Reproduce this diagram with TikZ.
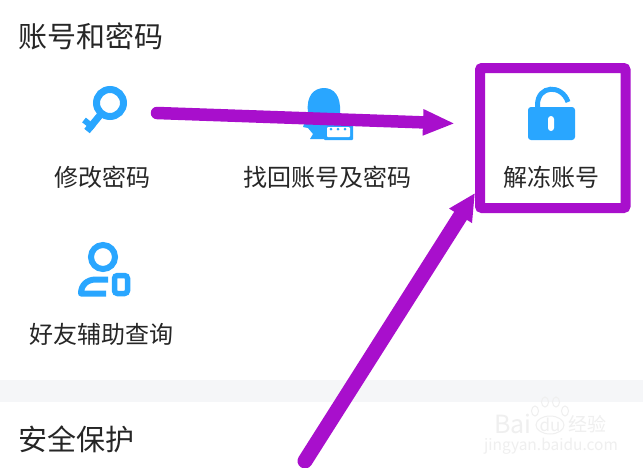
\documentclass[tikz,border=0pt]{standalone}
\usepackage{fontspec}
\setmainfont{Noto Sans CJK SC}
\usetikzlibrary{arrows.meta}
\definecolor{iconblue}{HTML}{29A6FF}
\definecolor{markpurple}{HTML}{A80FCC}
\definecolor{labelgray}{HTML}{262626}
\definecolor{bandgray}{HTML}{F5F6F8}
\definecolor{markgray}{HTML}{EFEFEF}
\tikzset{
  heading/.style = {anchor = west, inner sep = 0pt, text = labelgray, font = \fontsize{29}{29}\selectfont},
  itemlabel/.style = {inner sep = 0pt, text = labelgray, font = \fontsize{24}{24}\selectfont},
  icon/.style = {draw = iconblue, line width = 6pt},
  markarrow/.style = {draw = markpurple, line width = 12.5pt, line cap = round,
    -{Triangle[length = 32pt, width = 24pt, fill = markpurple]}},
  wmark/.style = {inner sep = 0pt, text = markgray}
}
\begin{document}
\begin{tikzpicture}[x = 1pt, y = -1pt]

  \useasboundingbox (0, 0) rectangle (643, 467);
  \clip (0, 0) rectangle (643, 467);
  \fill[white] (0, 0) rectangle (643, 467);
  \fill[bandgray] (0, 380) rectangle (643, 402);

  \node[heading] (account) at (18.5, 36) {账号和密码};
  \node[heading] (safety) at (18.5, 439) {安全保护};
  \node[itemlabel] (change) at (102, 177) {修改密码};
  \node[itemlabel] (recover) at (327, 177) {找回账号及密码};
  \node[itemlabel] (unfreeze) at (551, 177) {解冻账号};
  \node[itemlabel] (friend) at (102, 334) {好友辅助查询};

  \draw[icon, line width = 7pt] (110, 103) circle (13.5pt);
  \draw[icon, line width = 7pt] (101, 114) -- (87, 131);
  \draw[icon, line width = 6pt] (84, 120) -- (94, 128);

  \fill[iconblue] (308, 112) .. controls (306, 96) and (314, 88) .. (324, 88)
    .. controls (334, 88) and (341, 96) .. (340, 112) -- (340, 126) -- (325, 139)
    -- (310, 139) -- (313, 134) -- (308, 128) -- (303, 127) -- cycle;
  \fill[iconblue, rounded corners = 1pt] (324, 124) rectangle (353, 140);
  \fill[white, rounded corners = 1pt] (327, 127) rectangle (350, 137);
  \foreach \dotx in {331, 338, 345} {
    \fill[iconblue] (\dotx, 129) circle (1.5pt);
  }

  \fill[iconblue, rounded corners = 3pt] (528, 107) rectangle (575, 140);
  \fill[white, rounded corners = 3pt] (548, 116) rectangle (554, 131);
  \draw[icon, line width = 5pt] (537.5, 108) -- (537.5, 105)
    .. controls (537.5, 85) and (562, 84) .. (568, 102);

  \draw[icon] (103, 257) circle (12pt);
  \draw[icon, line join = round] (108, 279.5) -- (96, 279.5)
    .. controls (87, 279.5) and (81, 285) .. (81, 293.5) -- (106, 293.5);
  \draw[icon, line width = 5.5pt, rounded corners = 3pt] (114.5, 275.5) rectangle (127.5, 293.5);

  \node[wmark, font = \fontsize{25}{25}\selectfont] (bai) at (513, 424) {Bai};
  \node[wmark, font = \fontsize{17}{17}\selectfont] (du) at (550, 425) {du};
  \draw[markgray, line width = 1pt] (du) ellipse (14pt and 9pt);
  \foreach \pawx/\pawy in {535/411, 545/402, 556/402, 565/411} {
    \draw[markgray, line width = 1pt] (\pawx, \pawy) ellipse (3.5pt and 5pt);
  }
  \node[wmark, font = \fontsize{19}{19}\selectfont] (jing) at (587, 424) {经验};
  \node[wmark, font = \fontsize{15.5}{15.5}\selectfont] (site) at (551, 446) {jingyan.baidu.com};

  \coordinate (startone) at (157, 113);
  \coordinate (tipone) at (455, 123.5);
  \coordinate (starttwo) at (305, 461);
  \coordinate (tiptwo) at (475, 193);
  \draw[markarrow] (startone) -- (tipone);
  \draw[markarrow, line width = 15pt, -{Triangle[length = 27pt, width = 25pt, fill = markpurple]}] (starttwo) -- (tiptwo);
  \draw[draw = markpurple, line width = 10pt, rounded corners = 2pt] (480, 68) rectangle (625.5, 208);

\end{tikzpicture}
\end{document}
